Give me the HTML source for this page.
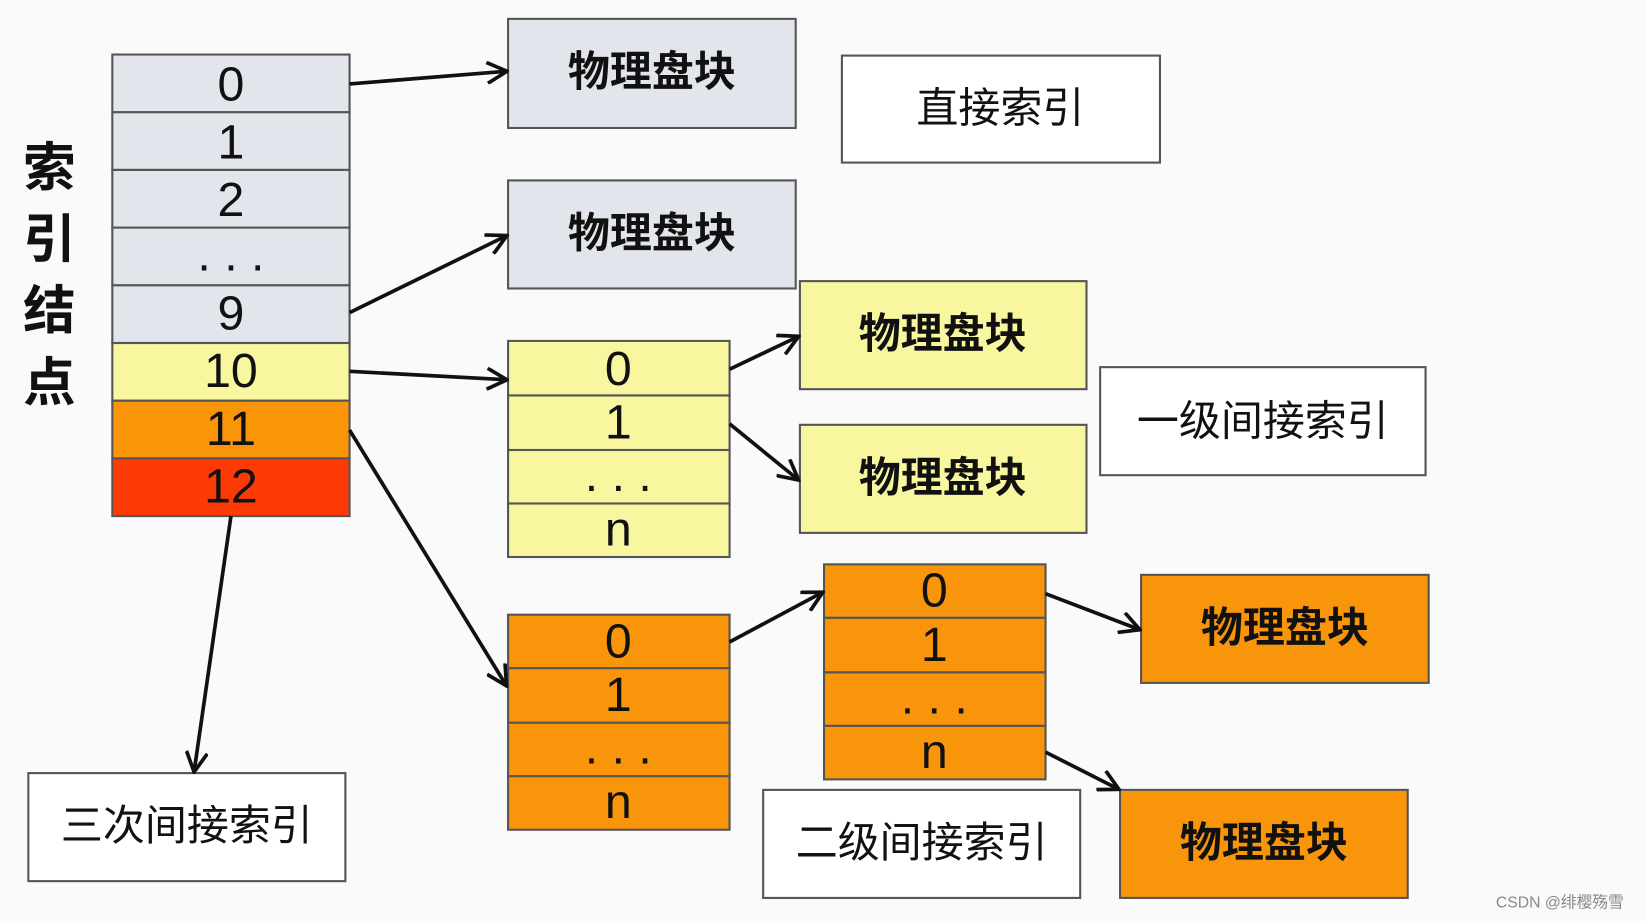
<!DOCTYPE html>
<html><head><meta charset="utf-8"><style>
html,body{margin:0;padding:0;background:#fafafa;}
svg{display:block}
text{font-family:"Liberation Sans","Noto Sans CJK SC",sans-serif;fill:#111;}
</style></head><body>
<svg width="1646" height="921" viewBox="0 0 1568 878" preserveAspectRatio="none" xmlns="http://www.w3.org/2000/svg">
<defs><marker id="a" markerWidth="22" markerHeight="22" refX="19" refY="11" orient="auto" markerUnits="userSpaceOnUse" viewBox="0 0 22 22"><path d="M1,1 L20,11 L1,21" fill="none" stroke="#111" stroke-width="3.5"/></marker></defs>
<rect width="1568" height="878" fill="#fafafa"/>
<g stroke="#555" stroke-width="2">
<rect x="107" y="52" width="226" height="55" fill="#e2e5eb"/>
<rect x="107" y="107" width="226" height="55" fill="#e2e5eb"/>
<rect x="107" y="162" width="226" height="55" fill="#e2e5eb"/>
<rect x="107" y="217" width="226" height="55" fill="#e2e5eb"/>
<rect x="107" y="272" width="226" height="55" fill="#e2e5eb"/>
<rect x="107" y="327" width="226" height="55" fill="#f8f7a0"/>
<rect x="107" y="382" width="226" height="55" fill="#fb9508"/>
<rect x="107" y="437" width="226" height="55" fill="#fc3a06"/>
<rect x="484" y="18" width="274" height="104" fill="#e2e5eb"/>
<rect x="484" y="172" width="274" height="103" fill="#e2e5eb"/>
<rect x="802" y="53" width="303" height="102" fill="#fff"/>
<rect x="484" y="325" width="211" height="52" fill="#f8f7a0"/>
<rect x="484" y="377" width="211" height="52" fill="#f8f7a0"/>
<rect x="484" y="429" width="211" height="51" fill="#f8f7a0"/>
<rect x="484" y="480" width="211" height="51" fill="#f8f7a0"/>
<rect x="762" y="268" width="273" height="103" fill="#f8f7a0"/>
<rect x="762" y="405" width="273" height="103" fill="#f8f7a0"/>
<rect x="1048" y="350" width="310" height="103" fill="#fff"/>
<rect x="484" y="586" width="211" height="51" fill="#f9950a"/>
<rect x="484" y="637" width="211" height="52" fill="#f9950a"/>
<rect x="484" y="689" width="211" height="51" fill="#f9950a"/>
<rect x="484" y="740" width="211" height="51" fill="#f9950a"/>
<rect x="785" y="538" width="211" height="51" fill="#f9950a"/>
<rect x="785" y="589" width="211" height="52" fill="#f9950a"/>
<rect x="785" y="641" width="211" height="51" fill="#f9950a"/>
<rect x="785" y="692" width="211" height="51" fill="#f9950a"/>
<rect x="1087" y="548" width="274" height="103" fill="#f9950a"/>
<rect x="1067" y="753" width="274" height="103" fill="#f9950a"/>
<rect x="727" y="753" width="302" height="103" fill="#fff"/>
<rect x="27" y="737" width="302" height="103" fill="#fff"/>
</g>
<g stroke="#111" stroke-width="3.5" fill="none" marker-end="url(#a)">
<line x1="333" y1="80" x2="482" y2="68"/>
<line x1="333" y1="298" x2="482" y2="225"/>
<line x1="333" y1="354" x2="482" y2="362"/>
<line x1="333" y1="410" x2="482" y2="653"/>
<line x1="220" y1="492" x2="185" y2="735"/>
<line x1="695" y1="352" x2="760" y2="321"/>
<line x1="695" y1="404" x2="760" y2="457"/>
<line x1="695" y1="612" x2="783" y2="565"/>
<line x1="996" y1="566" x2="1085" y2="600"/>
<line x1="996" y1="717" x2="1065" y2="752"/>
</g>
<g font-size="46" text-anchor="middle">
<text x="220" y="96">0</text><text x="220" y="151">1</text><text x="220" y="206">2</text><text x="220" y="258">. . .</text><text x="220" y="314">9</text><text x="220" y="369">10</text><text x="220" y="424">11</text><text x="220" y="479">12</text>
<text x="589" y="367">0</text><text x="589" y="418">1</text><text x="589" y="468">. . .</text><text x="589" y="520">n</text>
<text x="589" y="627">0</text><text x="589" y="678">1</text><text x="589" y="728">. . .</text><text x="589" y="780">n</text>
<text x="890" y="578">0</text><text x="890" y="630">1</text><text x="890" y="680">. . .</text><text x="890" y="732">n</text>
</g>
<g font-size="40" font-weight="bold" text-anchor="middle">
<text x="621" y="82">物理盘块</text><text x="621" y="236">物理盘块</text>
<text x="898" y="332">物理盘块</text><text x="898" y="469">物理盘块</text>
<text x="1224" y="612">物理盘块</text><text x="1204" y="817">物理盘块</text>
</g>
<g font-size="40" text-anchor="middle">
<text x="953" y="117">直接索引</text>
<text x="1203" y="415">一级间接索引</text>
<text x="878" y="817">二级间接索引</text>
<text x="178" y="801">三次间接索引</text>
</g>
<g font-size="50" font-weight="bold" text-anchor="middle">
<text x="47" y="177">索</text><text x="47" y="245">引</text><text x="47" y="313">结</text><text x="47" y="382">点</text>
</g>
<text x="1425" y="865" font-size="15" style="fill:#888">CSDN @绯樱殇雪</text>
</svg>
</body></html>
